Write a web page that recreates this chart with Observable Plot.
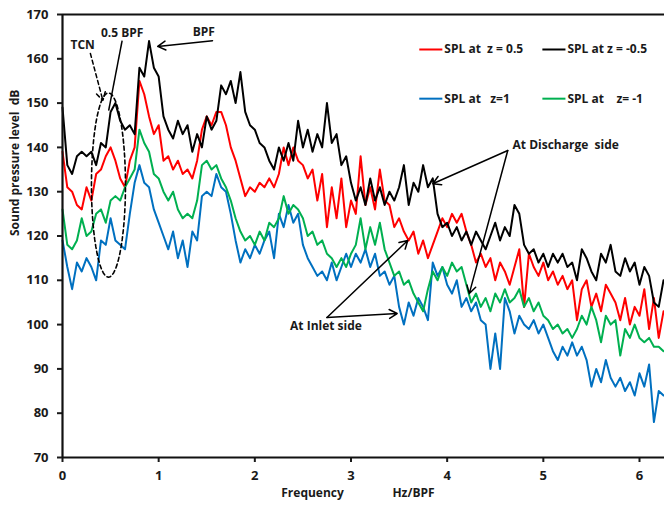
<!DOCTYPE html>
<html><head><meta charset="utf-8">
<script src="https://cdn.jsdelivr.net/npm/d3@7"></script>
<script src="https://cdn.jsdelivr.net/npm/@observablehq/plot@0.6"></script>
<style>
body{margin:0;background:#fff}
svg text{white-space:pre}
</style>
</head><body><div id="chart"></div>
<script>
// Frequency grid step (Hz/BPF)
const step = 0.05;

// SPL at z = 0.5 (red)
const splZ05 = [139,131,130,127,126,131,128,134,135,138,140,137,133,131,137,140,155,152,147,143,
145,137,138,135,137,134,135,133,137,144,147,145,148,148,145,140,137,133,129,131,
130,132,131,133,131,134,140,136,140,137,136,133,135,128,134,122,131,124,133,122,
128,125,138,127,131,126,135,128,127,122,124,121,119,121,116,119,115,118,121,124,
122,125,123,125,121,118,114,116,113,115,110,114,112,109,113,117,104,116,113,111,
114,110,112,109,111,108,110,101,108,110,104,107,103,109,107,105,101,106,100,104,
102,108,99,106,97,103];

// SPL at z = -0.5 (black)
const splZm05 = [149,136,134,138,139,138,139,136,141,140,148,150,146,144,145,143,158,156,164,158,
156,147,144,142,146,143,145,139,143,140,147,144,146,154,152,155,150,157,148,145,
144,141,140,137,135,140,137,141,137,146,140,144,139,143,140,150,141,143,136,138,
132,128,131,127,133,128,131,127,130,128,131,136,127,132,130,136,131,133,125,122,
123,120,122,119,121,118,121,119,117,120,123,119,122,120,127,125,118,116,117,114,
116,113,116,114,116,113,114,110,117,115,112,110,116,114,118,112,111,115,112,114,
109,113,111,105,104,110];

// SPL at z = 1 (blue)
const splZ1 = [119,113,108,114,112,115,113,110,119,118,124,119,118,117,125,132,136,132,131,126,
123,120,117,121,115,119,113,121,119,129,130,129,134,131,130,125,119,114,117,115,
118,116,119,121,115,125,122,127,123,125,118,115,113,111,112,110,114,110,113,116,
113,116,114,117,113,116,111,112,109,111,104,100,105,102,106,104,101,114,111,113,
109,107,110,104,106,103,105,101,100,90,98,90,106,103,98,102,100,99,101,98,
100,97,94,92,95,93,96,93,95,92,86,90,87,92,88,86,88,85,87,84,
89,86,91,78,85,84];

// SPL at z = -1 (green)
const splZm1 = [126,118,117,119,124,120,121,125,126,123,128,129,128,131,133,135,144,141,139,134,
133,130,128,130,126,124,125,124,128,136,137,135,136,133,131,128,124,121,119,120,
118,121,119,123,122,124,129,125,127,126,124,120,121,118,119,116,115,113,115,113,
116,118,124,117,122,118,123,117,114,111,112,109,110,107,105,103,108,112,110,113,
111,114,112,113,109,105,107,104,106,103,107,105,108,105,106,108,104,106,103,105,
102,101,99,100,98,99,97,99,102,100,104,101,96,102,100,101,93,99,97,100,
97,96,97,95,95,94];

const seriesNames = ["SPL at  z = 0.5", "SPL at z = -0.5", "SPL at   z=1", "SPL at    z= -1"];
const seriesColors = ["#FF0000", "#000000", "#0070C0", "#00B050"];
const seriesValues = [splZ05, splZm05, splZ1, splZm1];

const xTicks = [0, 1, 2, 3, 4, 5, 6];
const yTicks = [70, 80, 90, 100, 110, 120, 130, 140, 150, 160, 170];

// Annotations (data coordinates)
const arrows = [
  {x1: 1.56, y1: 164.1, x2: 0.99, y2: 162.8},   // BPF
  {x1: 4.63, y1: 139.3, x2: 3.85, y2: 131.8},   // discharge -> black
  {x1: 4.63, y1: 139.3, x2: 4.23, y2: 107.0},   // discharge -> green
  {x1: 2.75, y1: 101.6, x2: 3.59, y2: 119.0},   // inlet -> red
  {x1: 2.75, y1: 101.6, x2: 3.48, y2: 102.5}    // inlet -> blue
];
const dashedArrows = [{x1: 0.29, y1: 161.2, x2: 0.42, y2: 150.6}]; // TCN
const links = [{x1: 0.62, y1: 164.1, x2: 0.48, y2: 148.3}];         // 0.5 BPF
const notes = [
  {x: 0.21, y: 163.0, text: "TCN", anchor: "middle"},
  {x: 0.62, y: 165.8, text: "0.5 BPF", anchor: "middle"},
  {x: 1.47, y: 166.0, text: "BPF", anchor: "middle"},
  {x: 4.68, y: 140.4, text: "At Discharge  side", anchor: "start"},
  {x: 2.74, y: 99.6, text: "At Inlet side", anchor: "middle"}
];
const ellipse = {cx: 0.478, cy: 131.5, rx: 0.177, ry: 20.8};

// Legend placement (data coordinates)
const legendX = [[3.71, 3.95], [4.99, 5.23], [3.71, 3.95], [4.99, 5.23]];
const legendY = [162.1, 162.1, 151.0, 151.0];

const rows = seriesValues.flatMap((vals, s) =>
  vals.map((v, i) => ({f: +(i * step).toFixed(2), spl: v, s})));

const ellipsePts = d3.range(0, 361, 6).map(a => ({
  x: ellipse.cx + ellipse.rx * Math.cos(a * Math.PI / 180),
  y: ellipse.cy + ellipse.ry * Math.sin(a * Math.PI / 180)
}));

const legendRows = seriesNames.map((n, i) => ({
  name: n, color: seriesColors[i], xa: legendX[i][0], xb: legendX[i][1], y: legendY[i]
}));

const drawOrder = [0, 1, 2, 3];

const plot = Plot.plot({
  width: 664,
  height: 507,
  marginLeft: 62,
  marginRight: 0,
  marginTop: 14,
  marginBottom: 50,
  style: {fontFamily: "'Open Sans', sans-serif", fontSize: "12px", fontWeight: "bold", color: "#1a1a1a", background: "#fff", overflow: "visible"},
  x: {domain: [0, 6.26]},
  y: {domain: [70, 170]},
  marks: [
    ...drawOrder.map(s => Plot.line(rows.filter(d => d.s === s), {
      x: "f", y: "spl", stroke: seriesColors[s], strokeWidth: 2, curve: "linear"
    })),
    Plot.line(ellipsePts, {x: "x", y: "y", stroke: "#000", strokeWidth: 1.6, strokeDasharray: "4,3"}),
    Plot.arrow(arrows, {x1: "x1", y1: "y1", x2: "x2", y2: "y2", stroke: "#000", strokeWidth: 1.5, headLength: 9}),
    Plot.arrow(dashedArrows, {x1: "x1", y1: "y1", x2: "x2", y2: "y2", stroke: "#000", strokeWidth: 1.5, headLength: 9, strokeDasharray: "4,3"}),
    Plot.link(links, {x1: "x1", y1: "y1", x2: "x2", y2: "y2", stroke: "#000", strokeWidth: 1.5}),
    Plot.text(notes.filter(d => d.anchor === "middle"), {x: "x", y: "y", text: "text", textAnchor: "middle", fontSize: 12, fontWeight: "bold", fill: "#1a1a1a"}),
    Plot.text(notes.filter(d => d.anchor === "start"), {x: "x", y: "y", text: "text", textAnchor: "start", fontSize: 12, fontWeight: "bold", fill: "#1a1a1a"}),
    Plot.link(legendRows, {x1: "xa", x2: "xb", y1: "y", y2: "y", stroke: d => d.color, strokeWidth: 2}),
    Plot.text(legendRows, {x: "xb", y: "y", text: "name", textAnchor: "start", dx: 2, fontSize: 12, fontWeight: "bold", fill: "#1a1a1a"}),
    Plot.axisX(xTicks, {tickSize: 5, tickPadding: 8, strokeWidth: 2, fontSize: 13, fontWeight: "bold", fill: "#1a1a1a", label: null}),
    Plot.axisY(yTicks, {tickSize: 5, tickPadding: 9, strokeWidth: 2, fontSize: 13, fontWeight: "bold", fill: "#1a1a1a", label: null}),
    Plot.ruleY([70], {strokeWidth: 2.2, stroke: "#111"}),
    Plot.ruleY([170], {strokeWidth: 2.2, stroke: "#111"}),
    Plot.ruleX([0], {strokeWidth: 2.2, stroke: "#111"}),
    Plot.text(["Sound pressure level  dB"], {frameAnchor: "left", dx: -47, rotate: -90, fontSize: 12, fontWeight: "bold", fill: "#1a1a1a"}),
    Plot.text(["Frequency"], {x: 2.6, y: 70, dy: 36, fontSize: 12, fontWeight: "bold", fill: "#1a1a1a"}),
    Plot.text(["Hz/BPF"], {x: 3.65, y: 70, dy: 36, fontSize: 12, fontWeight: "bold", fill: "#1a1a1a"})
  ]
});
document.getElementById("chart").appendChild(plot);
</script>
</body></html>
